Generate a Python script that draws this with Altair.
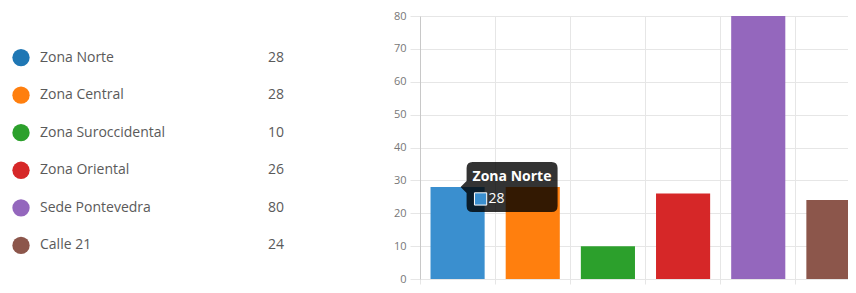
import altair as alt
import pandas as pd

zones = ["Zona Norte", "Zona Central", "Zona Suroccidental", "Zona Oriental", "Sede Pontevedra", "Calle 21"]
values = [28, 28, 10, 26, 80, 24]
legend_colors = ["#1f77b4", "#ff7f0e", "#2ca02c", "#d62728", "#9467bd", "#8c564b"]
bar_colors = ["#3a8fcf", "#ff7f0e", "#2ca02c", "#d62728", "#9467bd", "#8c564b"]
y_ticks = [0, 10, 20, 30, 40, 50, 60, 70, 80]
hovered = "Zona Norte"

df = pd.DataFrame({"zone": zones, "value": values, "lcolor": legend_colors, "bcolor": bar_colors})

FONT = "Open Sans"

x_enc = alt.X(
    "zone:N", sort=zones, title=None,
    scale=alt.Scale(domain=zones, range=[0, 451], paddingInner=0, paddingOuter=0),
    axis=alt.Axis(labels=False, grid=True, bandPosition=0, tickSize=5, domain=False,
                  gridColor="#e6e6e6", tickColor="#e6e6e6"),
)
y_enc = alt.Y(
    "value:Q", title=None,
    scale=alt.Scale(domain=[0, 80], nice=False),
    axis=alt.Axis(values=y_ticks, grid=True, tickSize=10, labelPadding=4, labelColor="#777777",
                  labelFontSize=11, labelFont=FONT, gridColor="#e6e6e6", tickColor="#e6e6e6",
                  domainColor="#c8c8c8", labelOverlap=False),
)

bars = alt.Chart(df).mark_bar(width=alt.RelativeBandSize(0.72), clip=True).encode(
    x=x_enc, y=y_enc, color=alt.Color("bcolor:N", scale=None)
)

tip_path = ("M0.03,0 L0.09,-0.06 L0.09,-0.19 Q0.09,-0.25 0.15,-0.25 L0.94,-0.25 Q1,-0.25 1,-0.19 "
            "L1,0.19 Q1,0.25 0.94,0.25 L0.15,0.25 Q0.09,0.25 0.09,0.19 L0.09,0.06 Z")

tip_base = alt.Chart(df).transform_filter(alt.datum.zone == hovered)

tip_box = tip_base.mark_point(shape=tip_path, size=40000, filled=True, fill="#000000",
                              fillOpacity=0.8, strokeWidth=0).encode(x=x_enc, y=y_enc)
tip_square = tip_base.mark_point(shape="square", size=150, filled=True, stroke="#ffffff",
                                 strokeWidth=1, strokeOpacity=1, opacity=1, xOffset=23, yOffset=12).encode(
    x=x_enc, y=y_enc, fill=alt.Color("bcolor:N", scale=None))
tip_title = tip_base.mark_text(align="left", baseline="middle", dx=15, dy=-10, fontSize=14,
                               fontWeight="bold", font=FONT, color="#ffffff").encode(
    x=x_enc, y=y_enc, text="zone:N")
tip_value = tip_base.mark_text(align="left", baseline="middle", dx=31, dy=12.5, fontSize=14,
                               font=FONT, color="#ffffff").encode(
    x=x_enc, y=y_enc, text="value:Q")

bar_layer = alt.layer(bars, tip_box, tip_square, tip_title, tip_value)

leg_y = alt.Y("zone:N", sort=zones, scale=alt.Scale(type="point", padding=1.016, align=0.553), axis=None)
leg_circle = alt.Chart(df).mark_circle(size=300, opacity=1).encode(
    x=alt.value(-399), y=leg_y, color=alt.Color("lcolor:N", scale=None))
leg_label = alt.Chart(df).mark_text(align="left", baseline="middle", fontSize=14, font=FONT,
                                    color="#5a5a5a").encode(x=alt.value(-380), y=leg_y, text="zone:N")
leg_value = alt.Chart(df).mark_text(align="right", baseline="middle", fontSize=14, font=FONT,
                                    color="#5a5a5a").encode(x=alt.value(-136), y=leg_y, text="value:Q")
legend_layer = alt.layer(leg_circle, leg_label, leg_value)

chart = alt.layer(legend_layer, bar_layer).resolve_scale(y="independent", x="independent").properties(
    width=428, height=263,
    autosize=alt.AutoSizeParams(type="none"),
    padding={"left": 412, "top": 8, "right": 0, "bottom": 6},
).configure_view(stroke=None)

chart.save("out.html", embed_options={"renderer": "svg", "actions": False})
